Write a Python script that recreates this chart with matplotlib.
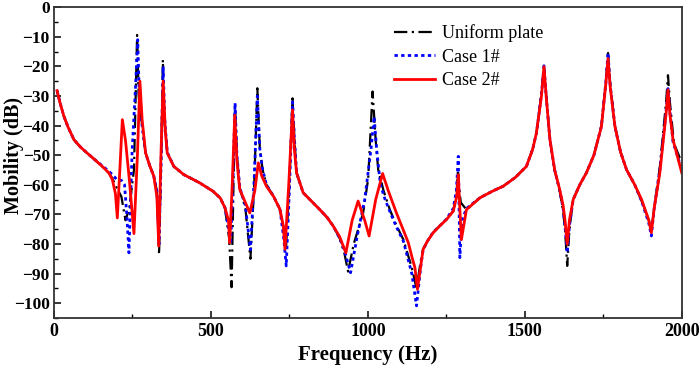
import numpy as np
import matplotlib
matplotlib.use('Agg')
import matplotlib.pyplot as plt
from matplotlib.ticker import MultipleLocator

#====================================================
#                 Data
#====================================================
f_uni = [10, 20, 32, 45, 64, 85, 106, 130, 159, 175, 186, 200, 215, 228, 240, 255, 265,
         270, 281, 292, 305, 318, 328, 335, 342, 347, 352, 361, 382, 414, 440, 465,
         507, 530, 545, 558, 566, 572, 577, 583, 592, 610, 626, 638, 648, 656, 665,
         677, 700, 720, 732, 739, 750, 760, 767, 773, 794, 820, 847, 870, 890, 910,
         925, 937, 955, 985, 1001, 1015, 1025, 1033, 1050, 1070, 1090, 1113, 1140,
         1155, 1168, 1176, 1190, 1208, 1230, 1251, 1272, 1282, 1287, 1292, 1296,
         1314, 1357, 1400, 1431, 1470, 1505, 1525, 1537, 1553, 1561, 1568, 1580,
         1595, 1611, 1622, 1628, 1635, 1642, 1654, 1675, 1696, 1720, 1744, 1758,
         1765, 1772, 1787, 1805, 1824, 1850, 1872, 1895, 1903, 1912, 1930, 1950,
         1956, 1962, 1975, 2000]
db_uni = [-28.2, -32.5, -36.9, -40.5, -44.8, -47.3, -49.3, -51.5, -54.3, -56, -57.8, -61,
          -64, -72, -68, -55, -9.4, -30, -40, -49.2, -53.5, -57, -62, -83.5, -50, -17.8,
          -38, -49, -53.8, -56.6, -58, -59.4, -62.2, -64.5, -67.8, -78, -94.6, -60,
          -33, -50, -61, -68, -85, -60, -27.4, -48, -55, -60, -64, -68.3, -76, -82,
          -60, -30.8, -46, -56, -62.7, -65.5, -68.4, -71, -74, -78, -83, -89.3, -80,
          -69.5, -58, -28.5, -45, -54.9, -62, -68.4, -73.5, -78.5, -88, -95, -86,
          -81.8, -79, -76.2, -73.8, -71.7, -68.9, -64, -55, -62, -66, -68.4, -64.4,
          -62, -60.5, -57.5, -53.8, -48, -42.5, -29, -19.5, -30, -44.8, -55, -62,
          -69, -75, -87.4, -75, -65, -60, -56, -50, -40, -25, -15.5, -26, -40, -49,
          -54.9, -60, -65.5, -72, -75.5, -68, -54, -32, -23, -32, -46, -52.6]

f_c1 = [10, 20, 32, 45, 64, 85, 106, 130, 159, 175, 186, 200, 215, 225, 232, 239, 249,
        260, 267, 272, 281, 292, 305, 318, 328, 335, 342, 348, 353, 361, 382, 414,
        440, 465, 507, 530, 545, 558, 563, 570, 577, 583, 592, 610, 626, 638, 648,
        656, 665, 677, 700, 720, 732, 740, 750, 760, 767, 773, 794, 820, 847, 870,
        890, 910, 925, 945, 965, 990, 1010, 1020, 1028, 1040, 1055, 1070, 1090,
        1113, 1140, 1155, 1168, 1176, 1190, 1208, 1230, 1251, 1272, 1282, 1288,
        1293, 1300, 1314, 1357, 1400, 1431, 1470, 1505, 1525, 1537, 1553, 1561,
        1568, 1580, 1595, 1611, 1622, 1628, 1635, 1642, 1654, 1675, 1696, 1720,
        1744, 1758, 1765, 1772, 1787, 1805, 1824, 1850, 1872, 1895, 1903, 1912,
        1930, 1950, 1956, 1962, 1972, 2000]
db_c1 = [-28.2, -32.5, -36.9, -40.5, -44.8, -47.3, -49.3, -51.5, -54.0, -55.5, -56.5,
         -58.2, -58.5, -60, -70, -83, -49, -26.8, -11, -30, -40, -49.2, -53.5, -57,
         -62, -80, -50, -20, -38, -49, -53.8, -56.6, -58, -59.4, -62.2, -64.5, -67.8,
         -76, -80, -60, -32.4, -50, -61, -67, -82, -58, -30, -48, -55, -60, -64,
         -68.3, -78, -87.4, -62, -32, -46, -56, -62.7, -65.5, -68.4, -71, -74, -78,
         -82, -89.7, -78, -65, -48, -37, -48, -60, -65, -69, -74, -79, -90, -100.9,
         -88, -82, -79, -76, -73.8, -71.5, -68, -62, -50.4, -84.6, -72, -68, -64.4,
         -62, -60.5, -57.5, -53.8, -48, -42.5, -29.5, -19.8, -30, -44.8, -55, -61.8,
         -68, -74, -83, -74, -65, -60, -56, -50, -40.3, -25.5, -15.5, -26.5, -40.3,
         -49, -54.9, -60, -65.5, -73, -77.3, -68, -55, -35, -27.5, -35, -45.5, -55]

f_c2 = [10, 20, 32, 45, 64, 85, 106, 130, 159, 175, 186, 196, 202, 210, 218, 228, 240,
        255, 266, 274, 281, 292, 305, 318, 328, 334, 341, 348, 355, 361, 382, 414,
        440, 465, 507, 530, 545, 556, 560, 568, 576, 583, 592, 610, 624, 640, 651,
        662, 677, 700, 720, 731, 736, 748, 760, 766, 773, 794, 820, 847, 870, 890,
        910, 930, 950, 969, 990, 1004, 1025, 1047, 1065, 1091, 1110, 1129, 1142,
        1150, 1158, 1176, 1190, 1208, 1230, 1251, 1272, 1283, 1288, 1293, 1298,
        1314, 1357, 1400, 1431, 1470, 1505, 1525, 1537, 1553, 1561, 1568, 1580,
        1595, 1611, 1622, 1628, 1635, 1642, 1654, 1675, 1696, 1720, 1744, 1758,
        1765, 1772, 1787, 1805, 1824, 1850, 1872, 1895, 1903, 1912, 1930, 1950,
        1956, 1962, 1972, 2000]
db_c2 = [-28.2, -32.5, -36.9, -40.5, -44.8, -47.3, -49.3, -51.5, -54.3, -56, -58.2, -63,
         -71.2, -55, -38, -45, -58, -76.5, -50, -25, -38, -49.2, -53.5, -57, -64, -80.7,
         -50, -25, -42, -49.3, -53.8, -56.6, -58, -59.4, -62.2, -64.5, -67.8, -72,
         -79.6, -60, -36.5, -52, -61.6, -66, -69.5, -62, -52.6, -57, -60.5, -64,
         -68.3, -74, -81.8, -60, -34.7, -48, -56, -62.7, -65.5, -68.4, -71, -74,
         -77.5, -83, -72, -65.5, -72, -77.3, -65, -56.2, -62, -69.5, -74.5, -79.6,
         -85, -88, -95.3, -81.8, -79, -76.2, -73.8, -71.7, -68.9, -64, -56.6, -68,
         -78.5, -68.4, -64.4, -62, -60.5, -57.5, -53.8, -48, -42.5, -30, -20.1, -30,
         -44.8, -55, -61.6, -67, -72, -80.1, -72, -65, -60, -56, -50, -40.3, -26,
         -17.3, -27, -40.3, -49, -54.9, -60, -65, -72, -76.2, -68, -56, -36, -27.9,
         -36, -44.8, -56]

#====================================================
#                       Plotting
#====================================================
plt.rcParams['font.family'] = ['Liberation Serif', 'DejaVu Serif']

fig = plt.figure(figsize=(7, 3.75), dpi=100)
ax = fig.add_axes([0.077, 0.152, 0.897, 0.829])

ax.plot(f_uni, db_uni, color='black', ls=(0, (6, 2, 1, 2)), lw=1.6, label='Uniform plate')
ax.plot(f_c1, db_c1, color='blue', ls=(0, (1.2, 1.2)), lw=2.0, label='Case 1#')
ax.plot(f_c2, db_c2, color='red', ls='-', lw=2.0, label='Case 2#')

ax.set_xlim(0, 2000)
ax.set_ylim(-105, 0)
ax.xaxis.set_major_locator(MultipleLocator(500))
ax.xaxis.set_minor_locator(MultipleLocator(250))
ax.yaxis.set_major_locator(MultipleLocator(10))
ax.yaxis.set_minor_locator(MultipleLocator(5))
ax.tick_params(which='both', direction='in', top=False, right=False)
ax.tick_params(axis='x', labelsize=13)
ax.tick_params(axis='y', labelsize=12.5, pad=3)
ax.tick_params(which='major', length=5, width=1.1)
ax.tick_params(which='minor', length=3, width=1.0)
for lab in ax.get_xticklabels() + ax.get_yticklabels():
    lab.set_fontweight('bold')
for sp in ax.spines.values():
    sp.set_linewidth(1.3)
    sp.set_color('#333333')

ax.set_xlabel('Frequency (Hz)', fontsize=15, fontweight='bold')
ax.set_ylabel('Mobility (dB)', fontsize=14.5, fontweight='bold')
ax.yaxis.set_label_coords(-0.048, 0.524)

ax.legend(loc='upper left', bbox_to_anchor=(0.515, 0.997), frameon=False,
          fontsize=13, handlelength=2.3, handletextpad=0.4, labelspacing=0.35)

fig.savefig('out.png', dpi=100)
